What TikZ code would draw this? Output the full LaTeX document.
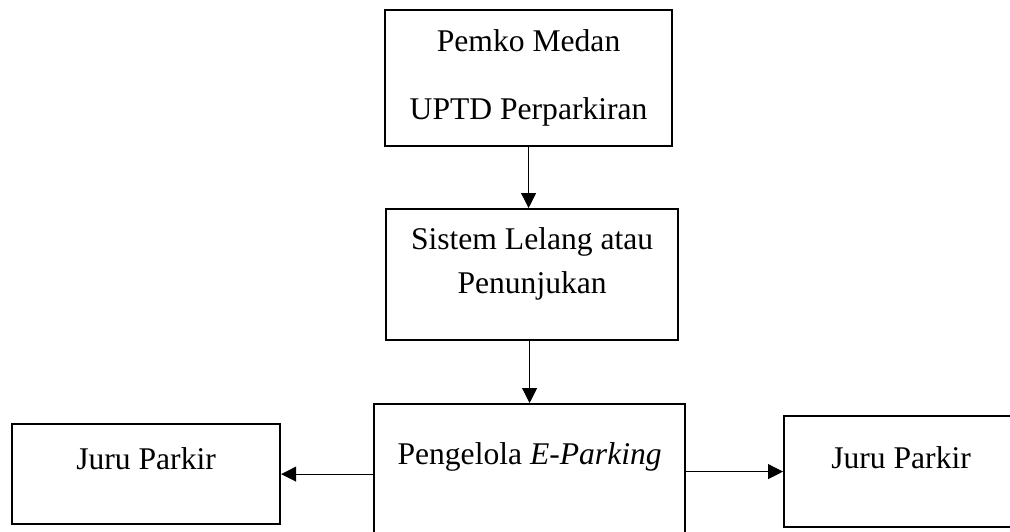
\documentclass[tikz,border=0pt]{standalone}
\usepackage{fontspec}
\setmainfont{Liberation Serif}
\usetikzlibrary{arrows.meta}
\begin{document}
\begin{tikzpicture}[x=1pt,y=-1pt,
			kotak/.style={draw,line width=2.2pt,inner sep=0pt,align=center,
				font=\fontsize{31.6}{36}\selectfont},
			panah/.style={line width=1pt,-{Triangle[length=15pt,width=15pt]}}
		]
		\useasboundingbox (0,0) rectangle (1010,531);
		\clip (0,0) rectangle (1010,531);
		\node[kotak,anchor=north west,minimum width=287pt,text height=109pt,text depth=27pt]
			(pemko) at (384,9) {Pemko Medan\\[32pt]UPTD Perparkiran};
		\node[kotak,anchor=north west,minimum width=292pt,text height=84pt,text depth=47pt]
			(lelang) at (385,208) {Sistem Lelang atau\\[8pt]Penunjukan};
		\node[kotak,anchor=north west,minimum width=311pt,text height=60pt,text depth=97pt]
			(pengelola) at (373,403) {Pengelola \textit{E-Parking}};
		\node[kotak,anchor=north west,minimum width=268pt,text height=45pt,text depth=55pt]
			(jukirkiri) at (11,423) {Juru Parkir};
		\node[kotak,anchor=north west,minimum width=234pt,text height=52pt,text depth=59pt]
			(jukirkanan) at (783,415) {Juru Parkir};
		\draw[panah] (pemko.south) -- (pemko.south |- lelang.north);
		\draw[panah] (pengelola.north |- lelang.south) -- (pengelola.north);
		\draw[panah] (pengelola.west |- jukirkiri.east) -- (jukirkiri.east);
		\draw[panah] (pengelola.east |- jukirkanan.west) -- (jukirkanan.west);
	\end{tikzpicture}
\end{document}
